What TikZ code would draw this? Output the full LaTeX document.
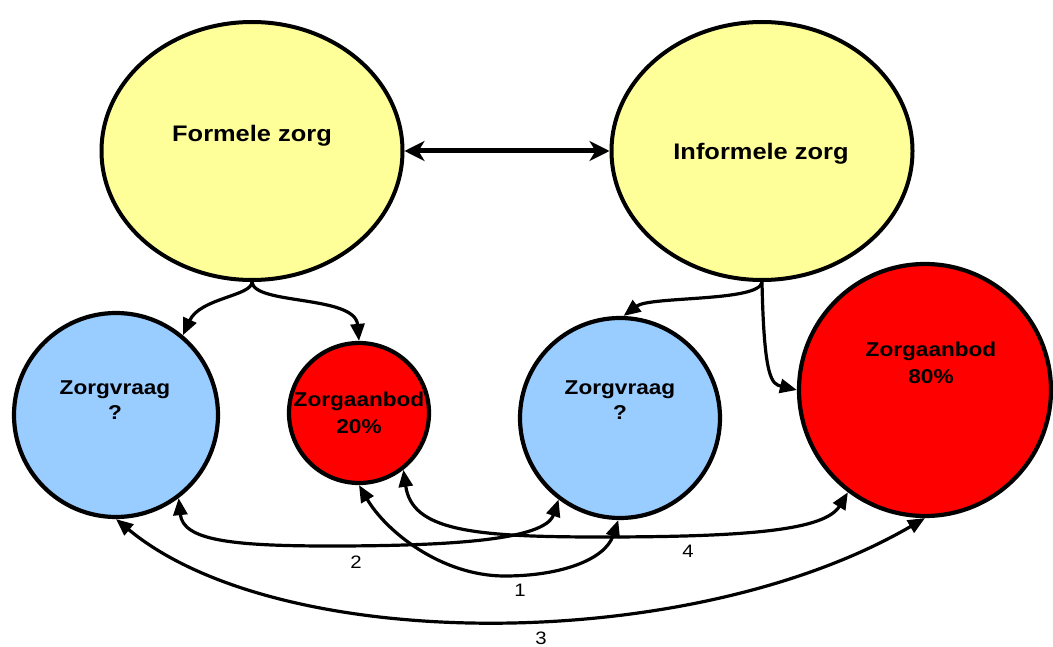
\documentclass[tikz,border=0pt]{standalone}
\usepackage{fontspec}
\newfontfamily\labfont[FakeStretch=1.13]{Liberation Sans}
\usetikzlibrary{arrows.meta,shapes.geometric}
\definecolor{careyellow}{HTML}{FFFF99}
\definecolor{askblue}{HTML}{99CCFF}
\definecolor{offerred}{HTML}{FF0000}
\begin{document}
\begin{tikzpicture}[x=1pt,y=-1pt,
  >={Triangle[length=17pt,width=14pt]},
  care/.style={ellipse, draw, line width=4pt, fill=careyellow, inner sep=0pt,
    minimum width=301pt, minimum height=258pt},
  ball/.style={circle, draw, line width=4.2pt, inner sep=0pt},
  ask/.style={ball, fill=askblue},
  offer/.style={ball, fill=offerred},
  title/.style={font=\labfont\bfseries\fontsize{22.5}{27}\selectfont, anchor=base, inner sep=0pt},
  txt/.style={font=\labfont\bfseries\fontsize{20}{26}\selectfont, anchor=base, inner sep=0pt},
  num/.style={font=\labfont\fontsize{18}{22}\selectfont, inner sep=0pt},
  link/.style={line width=3.2pt, ->},
  both/.style={line width=3.2pt, <->},
  twoway/.style={line width=5pt, {Stealth[length=20pt,width=20pt,inset=6pt]}-{Stealth[length=20pt,width=20pt,inset=6pt]}},
]
\useasboundingbox (0,0) rectangle (1053,647);

% big ellipses
\node[care] (fz) at (252,151) {};
\node[care] (iz) at (762,151) {};

% circles
\node[ask, minimum size=204pt] (zv1) at (116,415) {};
\node[offer, minimum size=140pt] (za20) at (359,413) {};
\node[ask, minimum size=200pt] (zv2) at (620,418) {};
\node[offer, minimum size=252pt] (za80) at (925,390) {};

% texts
\node[title] (fzt) at (252,142) {Formele zorg};
\node[title] (izt) at (761,160) {Informele zorg};
\node[txt] (zv1a) at (115,394) {Zorgvraag};
\node[txt] (zv1b) at (115,419) {?};
\node[txt] (za20a) at (359,406) {Zorgaanbod};
\node[txt] (za20b) at (359,433) {20\%};
\node[txt] (zv2a) at (620,394) {Zorgvraag};
\node[txt] (zv2b) at (620,419) {?};
\node[txt] (za80a) at (931,356) {Zorgaanbod};
\node[txt] (za80b) at (931,383) {80\%};

% double arrow between ellipses
\draw[twoway] (fz.east) -- (iz.west);

% branches from Formele zorg
\draw[link] (fz.south) .. controls (252,296) and (200,298) .. (zv1.50);
\draw[link] (fz.south) .. controls (254,305) and (355,295) .. (za20.north);

% branches from Informele zorg
\draw[link] (iz.south) .. controls (760,302) and (650,296) .. (zv2.88);
\draw[link] (iz.south) .. controls (764,380) and (772,384) .. (za80.west);

% bottom connectors
\draw[both] (zv1.-53) .. controls (183,540) and (230,546) .. (330,546)
  .. controls (450,546) and (545,540) .. (zv2.-127.5);
\draw[both] (za20.south) .. controls (385,530) and (440,576) .. (505,576)
  .. controls (560,576) and (605,560) .. (zv2.-91);
\draw[both] (za20.-52) .. controls (412,530) and (470,537) .. (600,537)
  .. controls (750,537) and (825,530) .. (za80.-127);
\draw[both] (zv1.south) .. controls (280,655) and (690,655) .. (za80.south);

% labels
\node[num] (n2) at (356,562) {2};
\node[num] (n1) at (520,590) {1};
\node[num] (n4) at (688,551) {4};
\node[num] (n3) at (541,638) {3};
\end{tikzpicture}
\end{document}
